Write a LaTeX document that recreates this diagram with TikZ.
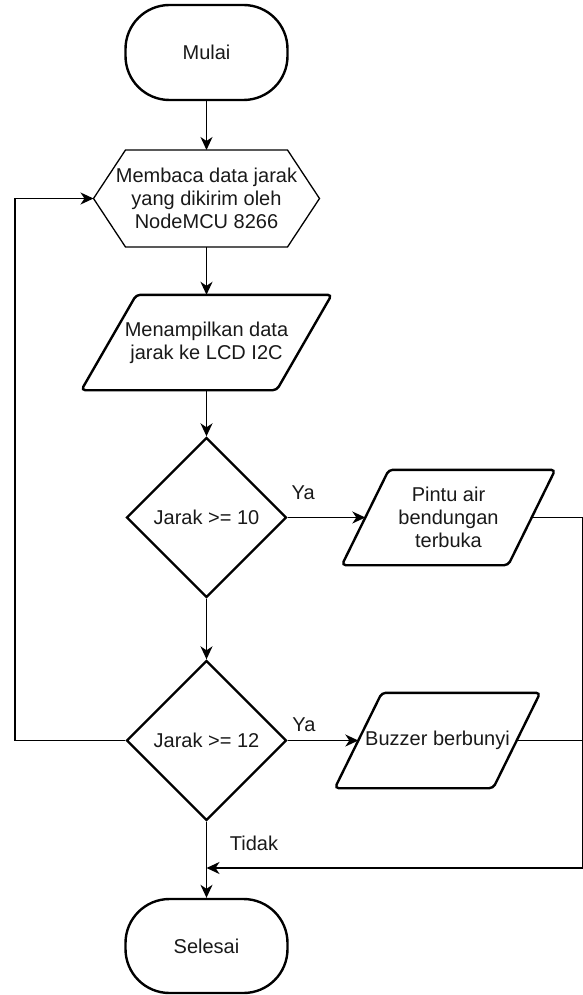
\documentclass[tikz,border=0pt]{standalone}
\usepackage{fontspec}
\setmainfont{Liberation Sans}
\usetikzlibrary{shapes.geometric,arrows.meta,calc}
\begin{document}
\begin{tikzpicture}[x=1pt,y=-1pt,
 every node/.style={font=\fontsize{20}{23}\selectfont, text=black!90},
 term/.style={draw, line width=2.4pt, rounded corners=44pt, minimum width=162pt, inner sep=0pt},
 dec/.style={diamond, draw, line width=2.4pt, minimum width=160pt, minimum height=160pt, inner sep=0pt, aspect=1},
 txt/.style={draw=none, inner sep=0pt, align=center},
 parabox/.style={draw=none, inner sep=0pt, align=center, minimum height=95pt},
 flow/.style={line width=1.6pt, -{Stealth[length=13pt,width=12pt,inset=4pt]}},
 plain/.style={line width=1.6pt},
 paraline/.style={line width=2.4pt, rounded corners=4pt},
 hexline/.style={line width=1.3pt},
 lbl/.style={inner sep=0pt}
]
\useasboundingbox (0,0) rectangle (582,995);

% terminators
\node[term, minimum height=95pt] (mulai) at (206.5,52.5) {Mulai};
\node[term, minimum height=94pt] (selesai) at (206.5,946) {Selesai};

% hexagon
\node[txt] (hex) at (206.5,198.5) {Membaca data jarak\\yang dikirim oleh\\NodeMCU 8266};
\coordinate (hexL) at ($(hex.center)+(-113,0)$);
\coordinate (hexR) at ($(hex.center)+(113,0)$);
\coordinate (hexTL) at ($(hex.center)+(-81,-48.5)$);
\coordinate (hexTR) at ($(hex.center)+(81,-48.5)$);
\coordinate (hexBL) at ($(hex.center)+(-81,48.5)$);
\coordinate (hexBR) at ($(hex.center)+(81,48.5)$);
\coordinate (hexT) at ($(hex.center)+(0,-48.5)$);
\coordinate (hexB) at ($(hex.center)+(0,48.5)$);
\draw[hexline] (hexL) -- (hexTL) -- (hexTR) -- (hexR) -- (hexBR) -- (hexBL) -- cycle;

% parallelogram 1
\node[parabox, minimum width=195pt] (p1) at (206.5,342.5) {Menampilkan data\\jarak ke LCD I2C};
\draw[paraline] ([xshift=27.5pt]p1.north west) -- ([xshift=27.5pt]p1.north east)
  -- ([xshift=-27.5pt]p1.south east) -- ([xshift=-27.5pt]p1.south west) -- cycle;

% decisions
\node[dec] (d1) at (206.5,517.5) {Jarak >= 10};
\node[dec] (d2) at (206.5,740.5) {Jarak >= 12};

% parallelogram 2
\node[parabox, minimum width=166pt] (pintu) at (448.5,517.5) {Pintu air\\bendungan\\terbuka};
\draw[paraline] ([xshift=23.5pt]pintu.north west) -- ([xshift=23.5pt]pintu.north east)
  -- ([xshift=-23.5pt]pintu.south east) -- ([xshift=-23.5pt]pintu.south west) -- cycle;

% parallelogram 3
\node[parabox, minimum width=158pt] (buzzer) at (437.5,740.5) {Buzzer berbunyi};
\draw[paraline] ([xshift=23.5pt]buzzer.north west) -- ([xshift=23.5pt]buzzer.north east)
  -- ([xshift=-23.5pt]buzzer.south east) -- ([xshift=-23.5pt]buzzer.south west) -- cycle;

% helper coordinates
\coordinate (lc) at (15,740.5);
\coordinate (rc1) at (582.6,517.5);
\coordinate (rc2) at (582.6,868);
\coordinate (rb) at (582.6,740.5);
\coordinate (merge) at (206.5,868);

% connectors
\draw[flow] (mulai.south) -- (hexT);
\draw[flow] (hexB) -- (p1.north);
\draw[flow] (p1.south) -- (d1.north);
\draw[flow] (d1.east) -- node[lbl, pos=0.2, yshift=24.5pt] {Ya} (pintu.west);
\draw[flow] (d1.south) -- (d2.north);
\draw[flow] (d2.east) -- node[lbl, pos=0.23, yshift=15.5pt] {Ya} (buzzer.west);
\draw[flow] (d2.west) -- (lc) |- (hexL);
\draw[flow] (d2.south) -- node[lbl, pos=0.29, xshift=47.5pt] {Tidak} (selesai.north);
\draw[flow] (pintu.east) -- (rc1) -- (rc2) -- (merge);
\draw[plain] (buzzer.east) -- (rb);
\end{tikzpicture}
\end{document}
